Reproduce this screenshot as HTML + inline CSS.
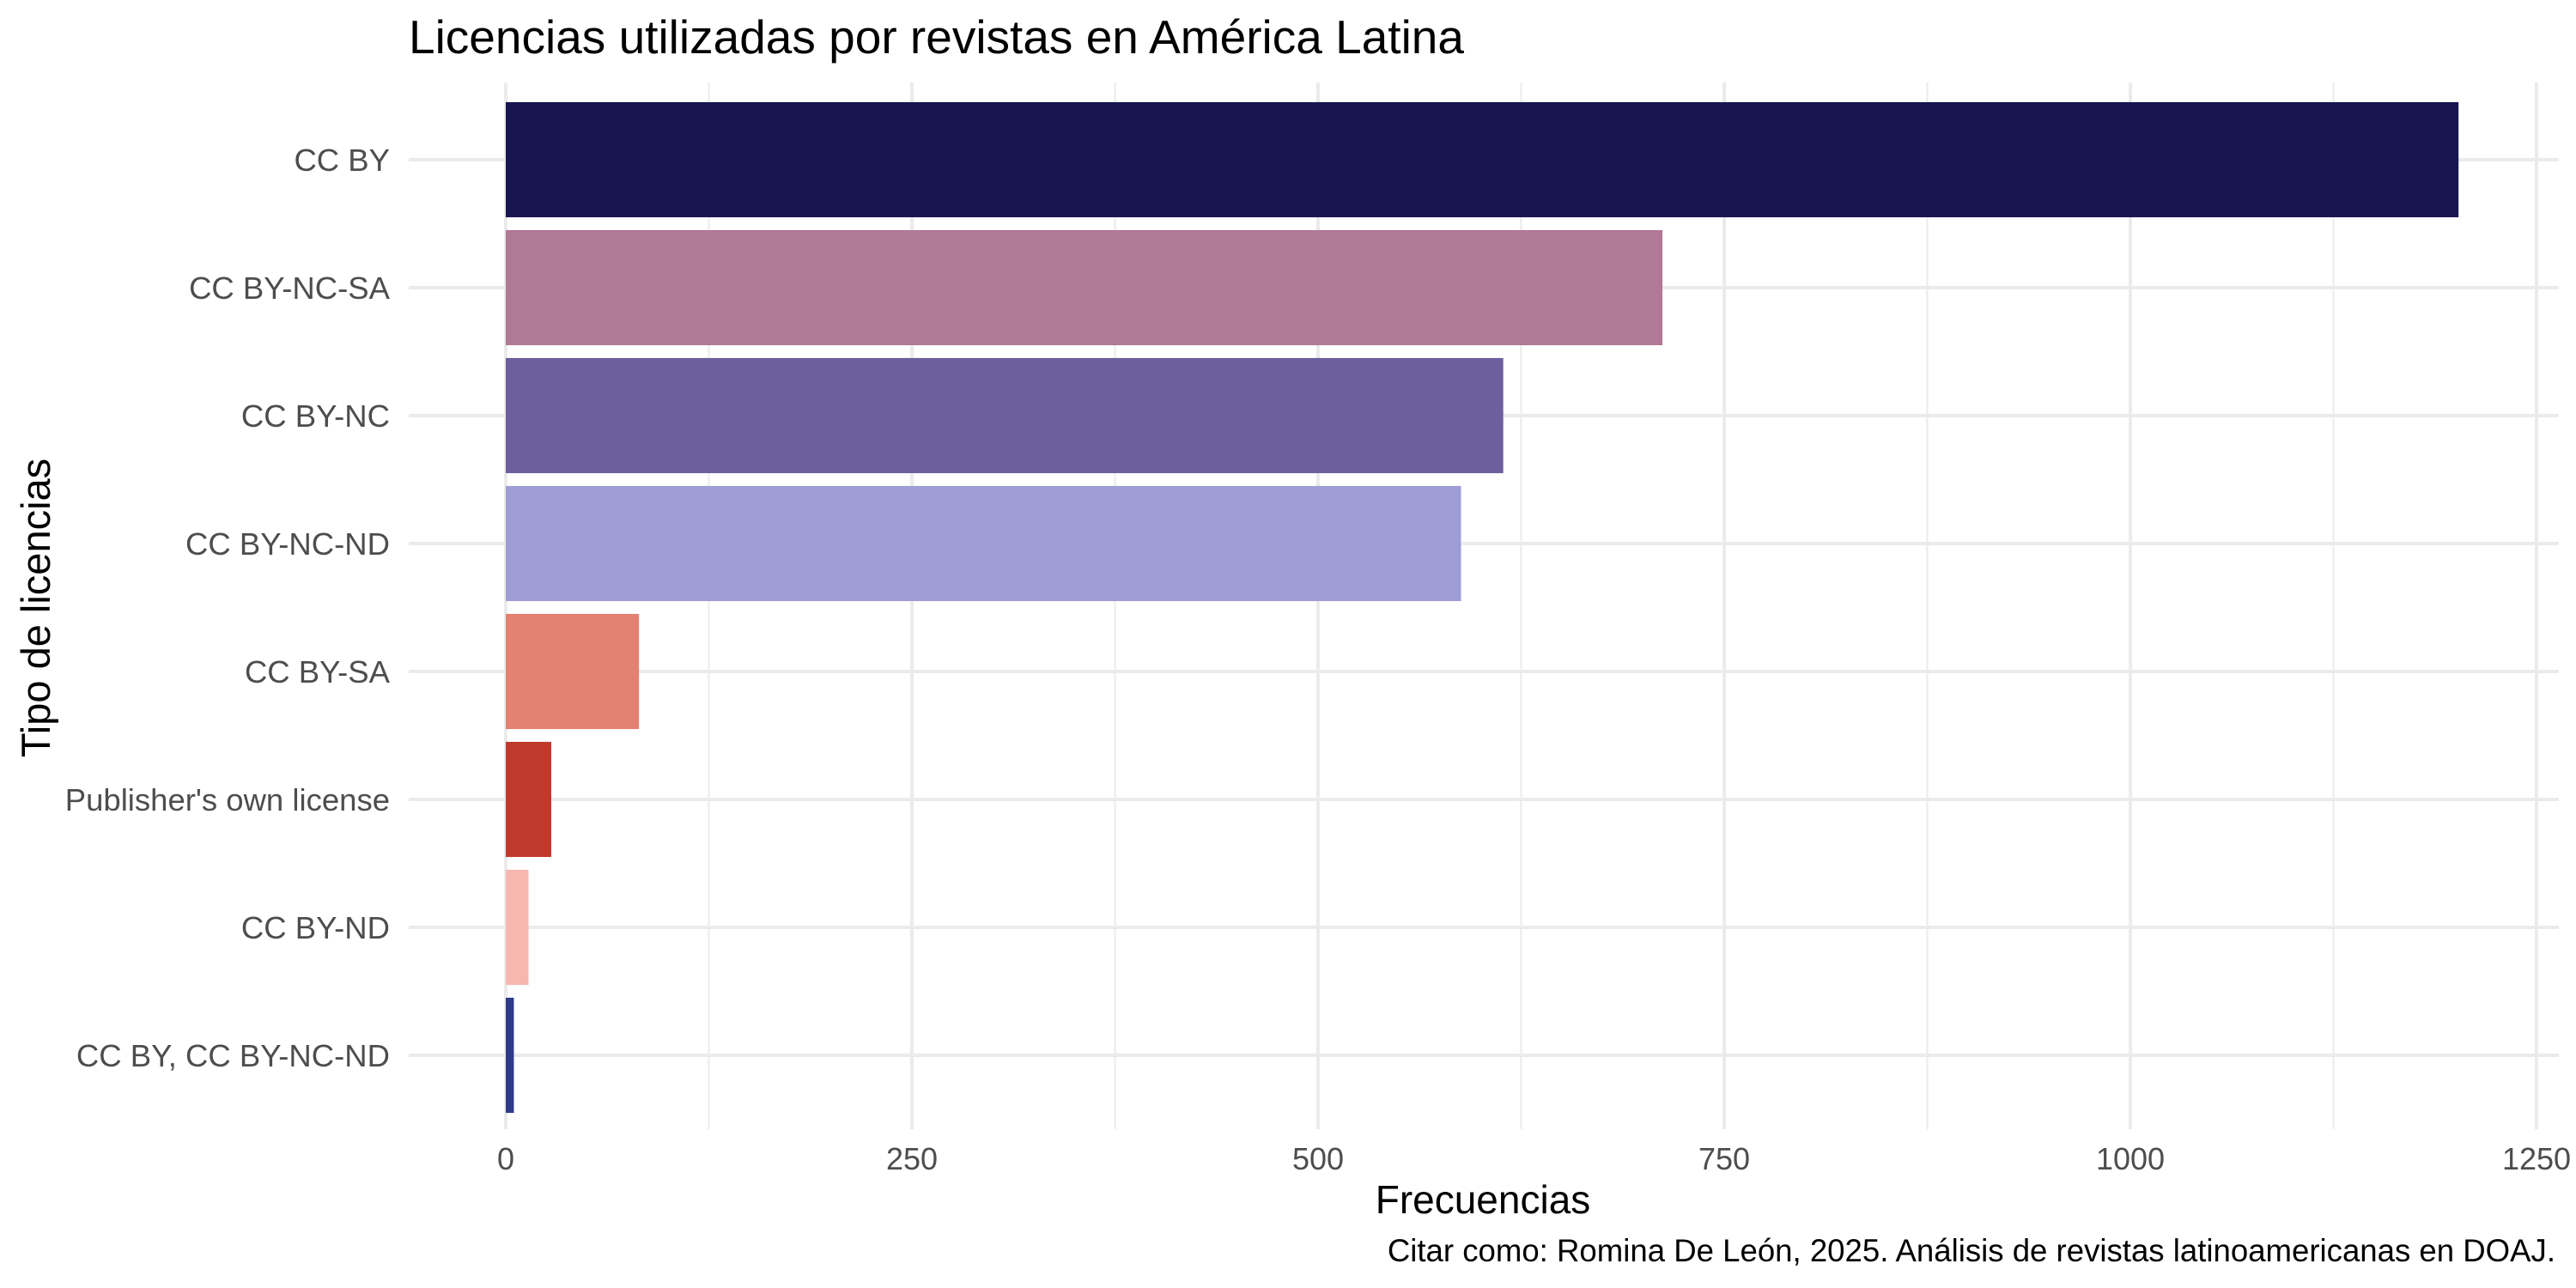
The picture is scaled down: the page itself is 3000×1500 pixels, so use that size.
<!DOCTYPE html>
<html><head><meta charset="utf-8"><style>
html,body{margin:0;padding:0;background:#fff;}
svg{display:block;font-family:"Liberation Sans",Arial,sans-serif;}
</style></head><body>
<svg id="chart" width="3000" height="1500" viewBox="0 0 3000 1500" xmlns="http://www.w3.org/2000/svg">
<rect width="3000" height="1500" fill="#fff"/>
<g id="grid"></g><g id="bars"></g><g id="ylabels"></g><g id="xlabels"></g>
<text x="476" y="62" font-size="55" fill="#000">Licencias utilizadas por revistas en América Latina</text>
<text x="1727" y="1413" font-size="46" text-anchor="middle" fill="#000">Frecuencias</text>
<text transform="translate(58,708) rotate(-90)" font-size="47" text-anchor="middle" fill="#000">Tipo de licencias</text>
<text x="2976" y="1469" font-size="36.6" text-anchor="end" fill="#000">Citar como: Romina De León, 2025. Análisis de revistas latinoamericanas en DOAJ.</text>
</svg>
<script>
const categories = ["CC BY","CC BY-NC-SA","CC BY-NC","CC BY-NC-ND","CC BY-SA","Publisher's own license","CC BY-ND","CC BY, CC BY-NC-ND"];
const values = [1202,712,614,588,82,28,14,5];
const colors = ["#171650","#b07996","#6d5e9e","#9e9dd5","#e48172","#c0392b","#f7b6b0","#2e3a87"];
const xTicks = [0,250,500,750,1000,1250];
const xTickLabels = ["0","250","500","750","1000","1250"];
const xMinor = [125,375,625,875,1125];

const NS="http://www.w3.org/2000/svg";
const panel={left:476,right:2980,top:96,bottom:1315};
const x0=589, pxPerUnit=(2954-589)/1250;
function xs(v){return x0+v*pxPerUnit;}
const band=(1229-186)/7;
function yc(i){return 186+i*band;}
function mk(tag,attrs,parent){const e=document.createElementNS(NS,tag);for(const k in attrs)e.setAttribute(k,attrs[k]);parent.appendChild(e);return e;}
const grid=document.getElementById('grid'),bars=document.getElementById('bars'),yl=document.getElementById('ylabels'),xl=document.getElementById('xlabels');
xMinor.forEach(v=>{const l=mk('line',{x1:xs(v),x2:xs(v),y1:panel.top,y2:panel.bottom,stroke:'#ebebeb','stroke-width':2},grid);

});
xTicks.forEach((v,i)=>{const l=mk('line',{x1:xs(v),x2:xs(v),y1:panel.top,y2:panel.bottom,stroke:'#ebebeb','stroke-width':4},grid);


const t=mk('text',{x:xs(v),y:1362,'font-size':36,'text-anchor':'middle',fill:'#4d4d4d'},xl);t.textContent=xTickLabels[i];

});
categories.forEach((c,i)=>{const l=mk('line',{x1:panel.left,x2:panel.right,y1:yc(i),y2:yc(i),stroke:'#ebebeb','stroke-width':4},grid);


const h=band*0.9;
const r=mk('rect',{x:xs(0),y:yc(i)-h/2,width:xs(values[i])-xs(0),height:h,fill:colors[i]},bars);


const t=mk('text',{x:454,y:yc(i)+13,'font-size':36.5,'text-anchor':'end',fill:'#4d4d4d'},yl);t.textContent=c;

});
</script>
</body></html>
